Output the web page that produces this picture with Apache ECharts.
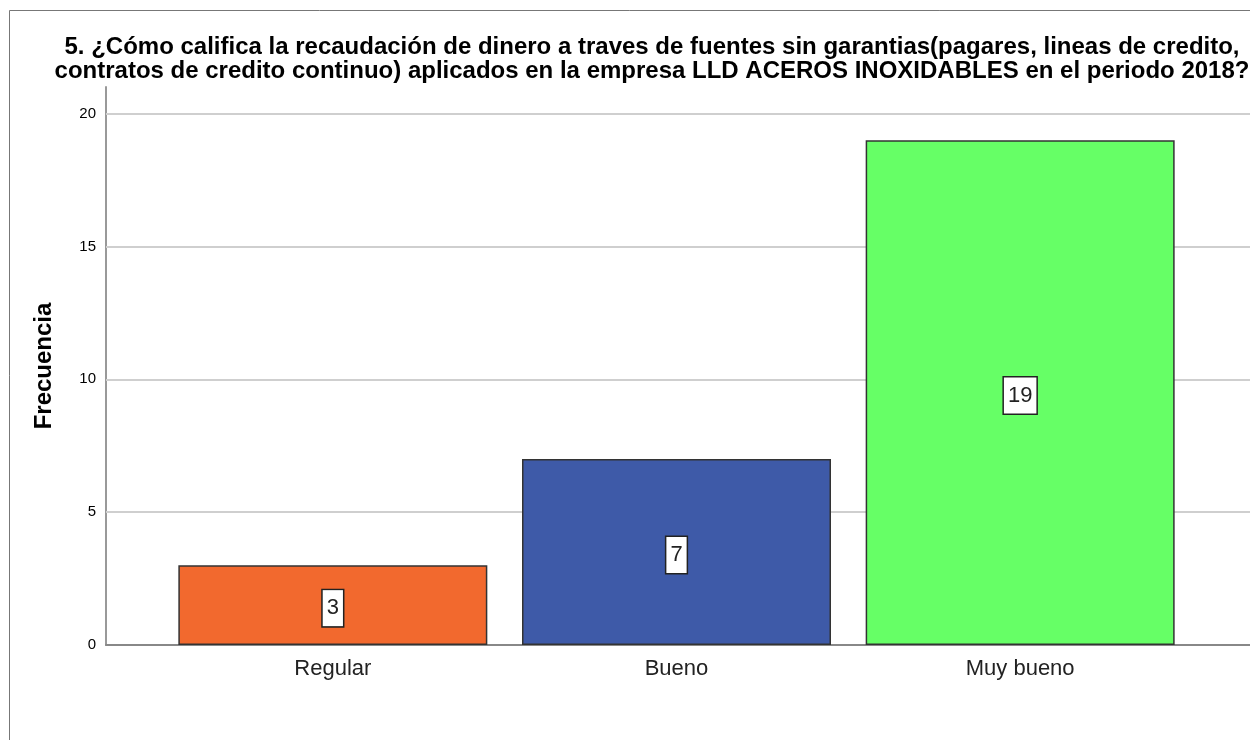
<!DOCTYPE html>
<html>
<head>
<meta charset="utf-8">
<script src="https://cdn.jsdelivr.net/npm/echarts@6/dist/echarts.min.js"></script>
<style>
  html, body { margin: 0; padding: 0; background: #fff; }
  #chart { width: 1250px; height: 740px; }
</style>
</head>
<body>
<div id="chart"></div>
<script>
// datos
var categorias = ['Regular', 'Bueno', 'Muy bueno'];
var frecuencias = [3, 7, 19];
var colores = ['#F2692E', '#3E5AA8', '#66FF66'];
var lineasGuia = [5, 10, 15, 20];

var titulo = '5. ¿Cómo califica la recaudación de dinero a traves de fuentes sin garantias(pagares, lineas de credito,\ncontratos de credito continuo) aplicados en la empresa LLD ACEROS INOXIDABLES en el periodo 2018?';

var chart = echarts.init(document.getElementById('chart'));

var option = {
  animation: false,
  backgroundColor: '#fff',
  title: {
    text: titulo,
    left: 647,
    top: 30,
    textAlign: 'center',
    textStyle: {
      fontFamily: 'Liberation Sans, Arial',
      fontWeight: 'bold',
      fontSize: 24,
      lineHeight: 24,
      color: '#000'
    }
  },
  graphic: [
    {
      type: 'polyline',
      shape: { points: [[9.5, 740], [9.5, 10.5], [1250, 10.5]] },
      style: { stroke: '#777', lineWidth: 1, fill: null }
    }
  ],
  grid: [
    { left: 106, right: 0, top: 87, bottom: 95 },
    { left: 161, right: 58, top: 87, bottom: 95 }
  ],
  xAxis: [
    {
      gridIndex: 0, type: 'value', min: 0, max: 1,
      axisLine: { show: true, lineStyle: { color: '#888', width: 2 } },
      axisTick: { show: false }, axisLabel: { show: false }, splitLine: { show: false }
    },
    {
      gridIndex: 1, type: 'category', data: categorias,
      axisLine: { show: false }, axisTick: { show: false },
      axisLabel: {
        margin: 13,
        fontFamily: 'Liberation Sans, Arial',
        fontSize: 22,
        color: '#222'
      }
    }
  ],
  yAxis: [
    {
      gridIndex: 0, type: 'value', min: 0, max: 21, interval: 5,
      name: 'Frecuencia',
      nameLocation: 'middle',
      nameGap: 50,
      nameTextStyle: {
        fontFamily: 'Liberation Sans, Arial',
        fontWeight: 'bold',
        fontSize: 24,
        color: '#000'
      },
      axisLine: { show: true, lineStyle: { color: '#999', width: 2 } },
      axisTick: { show: false },
      splitLine: { show: false },
      axisLabel: {
        margin: 10,
        fontFamily: 'Liberation Sans, Arial',
        fontSize: 15,
        color: '#000',
        showMaxLabel: false,
        formatter: function (v) { return v % 5 === 0 ? String(v) : ''; }
      }
    },
    {
      gridIndex: 1, type: 'value', min: 0, max: 21,
      show: false, splitLine: { show: false }
    }
  ],
  series: [
    {
      type: 'line',
      xAxisIndex: 0, yAxisIndex: 0,
      z: 0,
      data: [],
      silent: true,
      markLine: {
        symbol: 'none',
        silent: true,
        label: { show: false },
        lineStyle: { color: '#cfcfcf', type: 'solid', width: 2 },
        data: lineasGuia.map(function (v) { return { yAxis: v }; })
      }
    },
    {
      type: 'bar',
      xAxisIndex: 1, yAxisIndex: 1,
      z: 5,
      barWidth: 309,
      data: frecuencias.map(function (v, i) {
        return { value: v, itemStyle: { color: colores[i] } };
      }),
      itemStyle: { borderColor: '#333', borderWidth: 1.5 },
      label: {
        show: true,
        position: 'inside',
        fontFamily: 'Liberation Sans, Arial',
        fontSize: 22,
        lineHeight: 22,
        color: '#222',
        backgroundColor: '#fff',
        borderColor: '#222',
        borderWidth: 1.5,
        padding: [7, 4, 7, 4],
        offset: [0, 3]
      }
    }
  ]
};

chart.setOption(option);
</script>
</body>
</html>
